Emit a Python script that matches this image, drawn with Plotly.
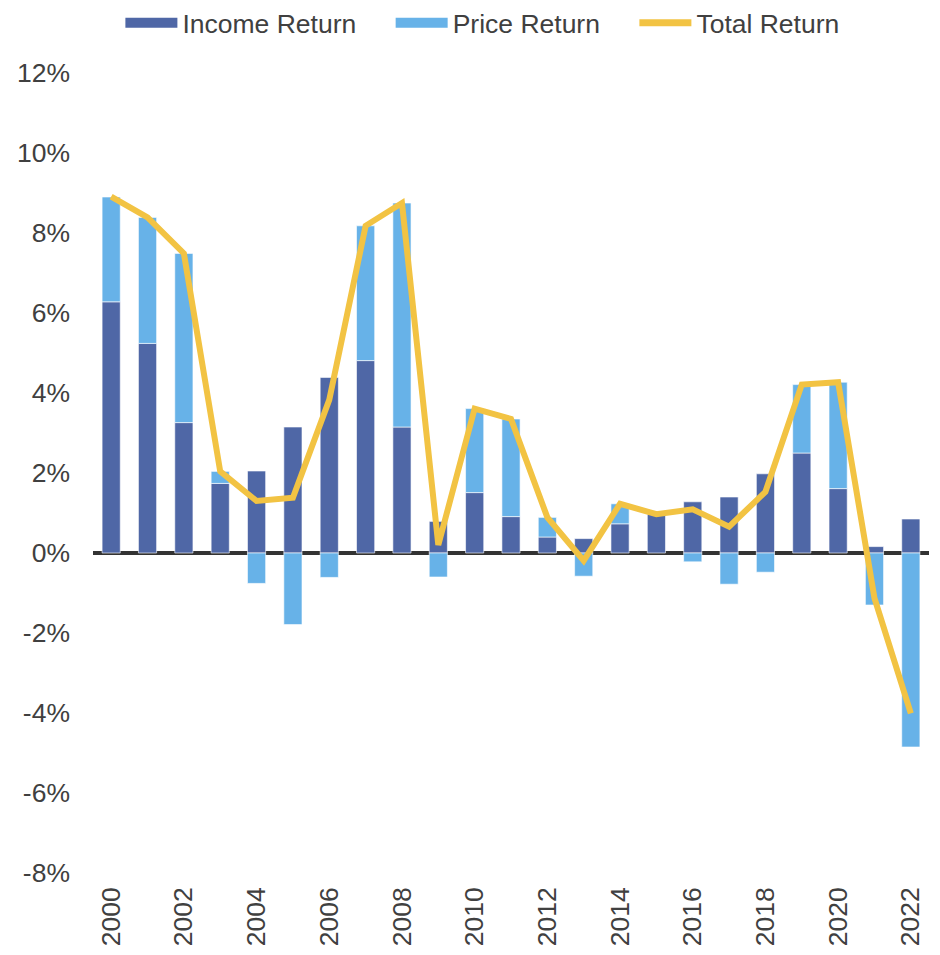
import plotly.graph_objects as go

years = list(range(2000, 2023))
income_return = [6.28, 5.24, 3.26, 1.74, 2.05, 3.15, 4.39, 4.81, 3.15, 0.79, 1.51,
                 0.91, 0.40, 0.36, 0.73, 0.97, 1.28, 1.40, 1.98, 2.50, 1.61, 0.16, 0.85]
price_return = [2.62, 3.15, 4.23, 0.30, -0.76, -1.79, -0.61, 3.37, 5.60, -0.60, 2.10,
                2.44, 0.49, -0.58, 0.50, 0.00, -0.22, -0.78, -0.48, 1.71, 2.66, -1.30, -4.85]
total_return = [8.91, 8.39, 7.49, 2.04, 1.30, 1.38, 3.83, 8.18, 8.75, 0.20, 3.61,
                3.35, 0.89, -0.19, 1.23, 0.97, 1.09, 0.66, 1.53, 4.21, 4.27, -1.13, -4.01]
y_ticks = [-8, -6, -4, -2, 0, 2, 4, 6, 8, 10, 12]
y_tick_labels = [f"{v}%" for v in y_ticks]
x_ticks = list(range(2000, 2023, 2))

font_family = "Liberation Sans, Arial, sans-serif"
text_color = "#404040"
c_income = "#4F67A6"
c_price = "#67B2E8"
c_total = "#F2C343"
pad = "\u00a0" * 4

fig = go.Figure()
fig.add_trace(go.Bar(x=years, y=income_return, name="Income Return", showlegend=False,
                     legendgroup="inc",
                     marker=dict(color=c_income, line=dict(color="rgba(255,255,255,0.6)", width=1)),
                     width=0.5))
fig.add_trace(go.Bar(x=years, y=price_return, name="Price Return", showlegend=False,
                     legendgroup="pr",
                     marker=dict(color=c_price, line=dict(color="rgba(255,255,255,0.6)", width=1)),
                     width=0.5))
fig.add_trace(go.Scatter(x=years, y=total_return, name="Total Return", mode="lines",
                         showlegend=False, legendgroup="tot",
                         line=dict(color=c_total, width=6)))
# legend entries (swatches): single-point line traces draw nothing on the plot
fig.add_trace(go.Scatter(x=years[:1], y=income_return[:1], name="Income Return" + pad, mode="lines",
                         legendgroup="inc", hoverinfo="skip", line=dict(color=c_income, width=20)))
fig.add_trace(go.Scatter(x=years[:1], y=price_return[:1], name="Price Return" + pad, mode="lines",
                         legendgroup="pr", hoverinfo="skip", line=dict(color=c_price, width=20)))
fig.add_trace(go.Scatter(x=years[:1], y=total_return[:1], name="Total Return", mode="lines",
                         legendgroup="tot", hoverinfo="skip", line=dict(color=c_total, width=7)))

fig.update_layout(
    width=932, height=947,
    barmode="relative",
    plot_bgcolor="white", paper_bgcolor="white",
    margin=dict(l=85, r=11, t=65, b=82, autoexpand=False),
    font=dict(family=font_family, size=26.5, color=text_color),
    showlegend=True,
    legend=dict(orientation="h", x=0.509, xanchor="center", xref="container",
                y=1.0625, yanchor="middle", yref="paper",
                font=dict(size=26.5, color=text_color), itemwidth=52,
                traceorder="normal", tracegroupgap=0),
    xaxis=dict(range=[1999.5, 2022.5], tickmode="array", tickvals=x_ticks,
               ticktext=[str(t) for t in x_ticks], tickangle=-90,
               showgrid=False, zeroline=False, showline=False, ticks="",
               ticklabelstandoff=8),
    yaxis=dict(range=[-8, 12], tickmode="array", tickvals=y_ticks, ticktext=y_tick_labels,
               showgrid=False, zeroline=True, zerolinecolor="#333333", zerolinewidth=4,
               showline=False, ticks="", ticklabelstandoff=22),
)

fig.write_html("out.html")
